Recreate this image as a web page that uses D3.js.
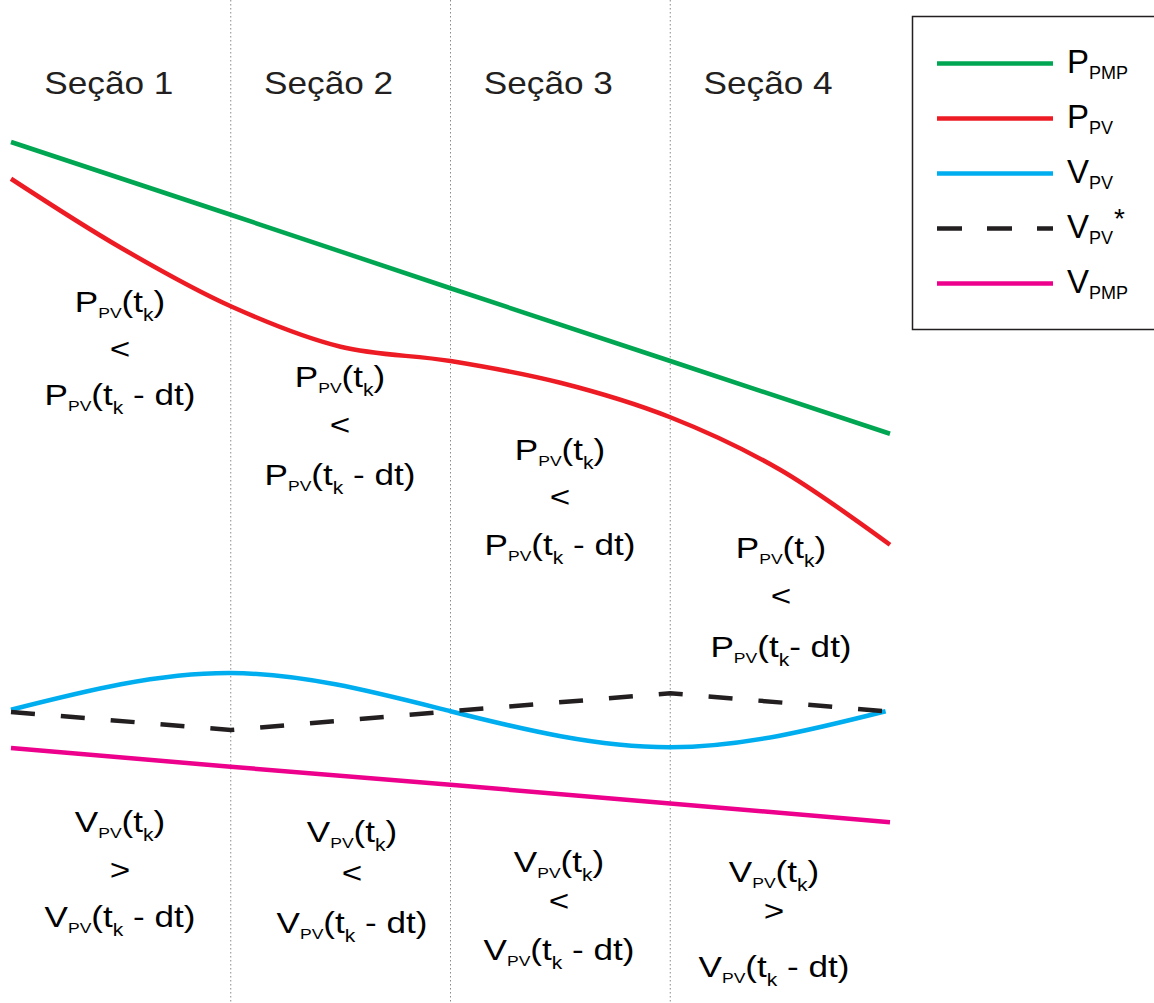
<!DOCTYPE html>
<html>
<head>
<meta charset="utf-8">
<script src="https://cdn.jsdelivr.net/npm/d3@7"></script>
<style>
  html, body { margin: 0; padding: 0; background: #ffffff; }
  svg { display: block; }
  text { font-family: "Liberation Sans", Arial, Helvetica, sans-serif; white-space: pre; }
</style>
</head>
<body>
<script>
// ---------------- data ----------------
const sections = ["Seção 1", "Seção 2", "Seção 3", "Seção 4"];
const sectionBounds = [1, 2, 3];

// x positions in "section units"
const xPowerLinear = [0, 1, 2, 3, 4];
const xPowerCurve = [0, 0.5, 1, 1.5, 2, 2.5, 3, 3.5, 4];
const xVoltage = [0, 1, 2, 3, 3.98];
const xVoltageMPP = [0, 1, 2, 3, 4];

// values (arbitrary units)
const pPMP = [94.4, 84.7, 74.9, 65.2, 55.5];
const pPV = [89.5, 80.3, 72.5, 67.1, 65.2, 62.3, 57.7, 50.7, 40.7];
const vPV = [18.7, 23.6, 18.5, 13.7, 18.5];
const vPVref = [18.4, 16.0, 18.5, 20.9, 18.5];
const vPMP = [13.6, 11.1, 8.7, 6.2, 3.7];

const powerRelation = ["<", "<", "<", "<"];
const voltageRelation = [">", "<", "<", ">"];

const legendMain = ["P", "P", "V", "V", "V"];
const legendSub = ["PMP", "PV", "PV", "PV", "PMP"];
const legendSup = ["", "", "", "*", ""];

// ---------------- layout / style ----------------
const W = 1154, H = 1003;
const colors = { pPMP: "#00a651", pPV: "#ed1c24", vPV: "#00aeef", vPVref: "#231f20", vPMP: "#ec008c" };
const legendColors = [colors.pPMP, colors.pPV, colors.vPV, colors.vPVref, colors.vPMP];
const legendDash = [null, null, null, "25,25", null];

const svg = d3.select("body").append("svg").attr("width", W).attr("height", H);

const x = d3.scaleLinear().domain([0, 4]).range([11, 890]);
const y = d3.scaleLinear().domain([0, 100]).range([850, 100]);

// section dividers
svg.append("g").selectAll("line").data(sectionBounds).join("line")
  .attr("x1", d => x(d)).attr("x2", d => x(d))
  .attr("y1", 0).attr("y2", H)
  .attr("stroke", "#8a8a8a").attr("stroke-width", 1)
  .attr("stroke-dasharray", "1.5,2.5");

// section titles
svg.append("g").selectAll("text").data(sections).join("text")
  .attr("transform", (d, i) => `translate(${x(i + 0.5) - 12},94) scale(1.1,1)`)
  .attr("text-anchor", "middle")
  .attr("font-size", 32)
  .attr("fill", "#231f20")
  .text(d => d);

// lines
function drawLine(xs, ys, curve, color, dash) {
  const pts = xs.map((v, i) => [v, ys[i]]);
  const gen = d3.line().x(d => x(d[0])).y(d => y(d[1])).curve(curve);
  const p = svg.append("path").attr("d", gen(pts))
    .attr("fill", "none").attr("stroke", color).attr("stroke-width", 4.5);
  if (dash) p.attr("stroke-dasharray", dash);
  return p;
}
drawLine(xPowerLinear, pPMP, d3.curveLinear, colors.pPMP);
drawLine(xPowerCurve, pPV, d3.curveCatmullRom, colors.pPV);
drawLine(xVoltage, vPV, d3.curveNatural, colors.vPV);
drawLine(xVoltage, vPVref, d3.curveLinear, colors.vPVref, "24,26");
drawLine(xVoltageMPP, vPMP, d3.curveLinear, colors.vPMP);

// annotations
const annoScale = 1.17;
function formula(g, letter, cx, baseline, withDt, noSpace) {
  const t = g.append("text")
    .attr("transform", `translate(${cx},${baseline}) scale(${annoScale},1)`)
    .attr("text-anchor", "middle").attr("font-size", 30).attr("fill", "#000");
  t.append("tspan").text(letter);
  t.append("tspan").attr("font-size", 15).attr("dy", 6).text("PV");
  t.append("tspan").attr("dy", -6).text("(t");
  t.append("tspan").attr("font-size", 18).attr("dy", 9).text("k");
  t.append("tspan").attr("dy", -9).text(withDt ? (noSpace ? "- dt)" : " - dt)") : ")");
}
function relation(g, sym, cx, baseline) {
  g.append("text")
    .attr("transform", `translate(${cx},${baseline}) scale(${annoScale},1)`)
    .attr("text-anchor", "middle").attr("font-size", 30).attr("fill", "#000")
    .text(sym);
}

const powerPos = [
  { cx: 120, b: [312, 359, 405] },
  { cx: 340, b: [387, 435, 485] },
  { cx: 560, b: [460, 507, 555] },
  { cx: 781, b: [558, 606, 657] }
];
const voltPos = [
  { cx: 120, b: [832, 880, 927] },
  { cx: 352, b: [842, 883, 933] },
  { cx: 559, b: [872, 911, 960] },
  { cx: 774, b: [882, 921, 977] }
];
const ga = svg.append("g");
powerRelation.forEach((rel, i) => {
  const p = powerPos[i];
  formula(ga, "P", p.cx, p.b[0], false);
  relation(ga, rel, p.cx, p.b[1]);
  formula(ga, "P", p.cx, p.b[2], true, i === 3);
});
voltageRelation.forEach((rel, i) => {
  const p = voltPos[i];
  formula(ga, "V", p.cx, p.b[0], false);
  relation(ga, rel, p.cx, p.b[1]);
  formula(ga, "V", p.cx, p.b[2], true, false);
});

// legend
const lg = svg.append("g");
lg.append("rect").attr("x", 912.5).attr("y", 16.5).attr("width", 270).attr("height", 313)
  .attr("fill", "#fff").attr("stroke", "#231f20").attr("stroke-width", 1.5);
const legendY = d3.scalePoint().domain(d3.range(legendMain.length)).range([63.5, 283.5]);
legendMain.forEach((m, i) => {
  const ly = legendY(i);
  const ln = lg.append("line").attr("x1", 937).attr("x2", 1053).attr("y1", ly).attr("y2", ly)
    .attr("stroke", legendColors[i]).attr("stroke-width", 4.5);
  if (legendDash[i]) ln.attr("stroke-dasharray", legendDash[i]);
  const t = lg.append("text").attr("x", 1067).attr("y", ly + 9.5)
    .attr("font-size", 33).attr("fill", "#000");
  t.append("tspan").text(m);
  t.append("tspan").attr("font-size", 18).attr("dy", 6).text(legendSub[i]);
  if (legendSup[i]) t.append("tspan").attr("font-size", 28).attr("dy", -16).attr("dx", 1).text(legendSup[i]);
});
</script>
</body>
</html>
